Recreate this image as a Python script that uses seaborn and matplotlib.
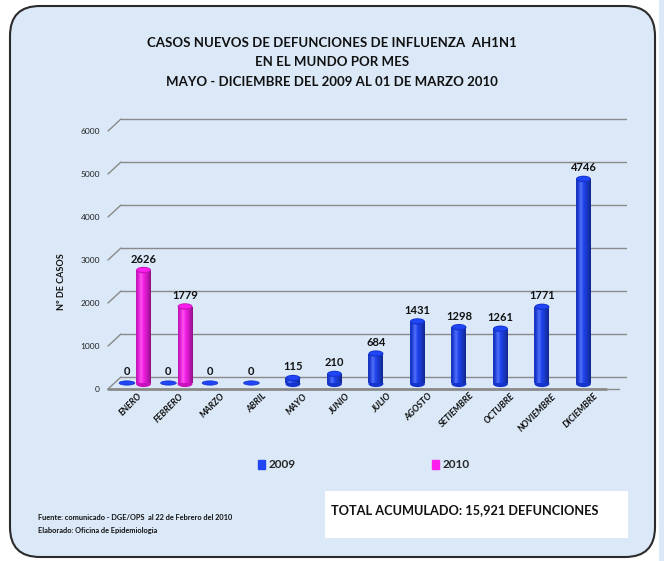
import numpy as np
import pandas as pd
import seaborn as sns
import matplotlib
matplotlib.use("Agg")
import matplotlib.pyplot as plt
from matplotlib.patches import FancyBboxPatch, Ellipse, Rectangle
from matplotlib.transforms import ScaledTranslation

sns.set_theme(style="white")
plt.rcParams['font.family'] = ['Lato', 'DejaVu Sans']

meses = ["ENERO", "FEBRERO", "MARZO", "ABRIL", "MAYO", "JUNIO", "JULIO",
         "AGOSTO", "SETIEMBRE", "OCTUBRE", "NOVIEMBRE", "DICIEMBRE"]
casos_2009 = [0, 0, 0, 0, 115, 210, 684, 1431, 1298, 1261, 1771, 4746]
meses_2010 = ["ENERO", "FEBRERO"]
casos_2010 = [2626, 1779]
yticks = [0, 1000, 2000, 3000, 4000, 5000, 6000]

df = pd.concat([
    pd.DataFrame({"mes": meses, "casos": casos_2009, "anio": "2009"}),
    pd.DataFrame({"mes": meses_2010, "casos": casos_2010, "anio": "2010"}),
])

colores = {"2009": "#1f45f5", "2010": "#fb1eec"}
oscuros = {"2009": "#1534cc", "2010": "#c812bc"}

W, H = 664, 561
fig = plt.figure(figsize=(W / 100, H / 100), dpi=100)
fig.patch.set_facecolor("white")

# fondo redondeado
fondo = FancyBboxPatch((10 / W, 1 - 557 / H), 645 / W, 551 / H,
                       boxstyle="round,pad=0,rounding_size=0.045",
                       transform=fig.transFigure, facecolor="#dae8f7",
                       edgecolor="#2b2b2b", linewidth=1.5, zorder=-2,
                       mutation_aspect=W / H)
fig.patches.append(fondo)
fig.patches.append(Rectangle((659 / W, 0), 5 / W, 1, transform=fig.transFigure,
                             facecolor="#dae8f7", edgecolor="none", zorder=-2))

ax = fig.add_axes([114.5 / W, 1 - 383 / H, 498 / W, 258 / H])
ax.set_facecolor("none")

sns.barplot(data=df, x="mes", y="casos", hue="anio", order=meses,
            hue_order=["2009", "2010"], palette=colores, width=0.8, gap=0.1,
            saturation=1, ax=ax, legend=False, zorder=3)

ax.set_ylim(0, 6000)
ax.set_xlim(-0.5, 11.5)
for s in ax.spines.values():
    s.set_visible(False)

# rejilla con efecto 3D
px = lambda dx, dy: ScaledTranslation(dx / 100, dy / 100, fig.dpi_scale_trans)
tr = ax.get_yaxis_transform()
inv = ax.transData.inverted()
for v in yticks:
    p0 = ax.transData.transform((-0.5, v)) + np.array([-6.5, -6])
    p1 = ax.transData.transform((-0.5, v)) + np.array([6.5, 6])
    a, b = inv.transform(p0), inv.transform(p1)
    ax.plot([a[0], b[0]], [a[1], b[1]], color="#8a8a8a", lw=1, zorder=1, clip_on=False)
    ax.plot([0, 1.015], [v, v], color="#8a8a8a", lw=1, zorder=1, clip_on=False,
            transform=tr + px(6.5, 6))
ax.plot([0, 1.0], [0, 0], color="#8a8a8a", lw=2, zorder=1, clip_on=False,
        transform=tr + px(-6.5, -6))
ax.plot([1.0, 1.026], [0, 0], color="#8a8a8a", lw=1, zorder=1, clip_on=False,
        transform=tr + px(-6.5, -6))

# cilindros: sombreado y tapas
t = np.linspace(0, 1, 64)
sombra = np.zeros((1, 64, 4))
sombra[..., 3] = np.clip(0.9 * np.abs(t - 0.4) ** 1.4, 0, 0.45)
brillo = np.ones((1, 64, 4))
brillo[..., 3] = 0.22 * np.exp(-((t - 0.33) / 0.12) ** 2)
cap_h = 150
for cont, anio in zip(ax.containers, ["2009", "2010"]):
    for bar in cont:
        x0, w, h = bar.get_x(), bar.get_width(), bar.get_height()
        if h > 0:
            bar.set_edgecolor("none")
            for capa in (sombra, brillo):
                img = ax.imshow(capa, extent=(x0, x0 + w, -40, h), aspect="auto",
                                interpolation="bilinear", zorder=4)
                img.set_clip_path(bar)
            ax.add_patch(Ellipse((x0 + w / 2, -20), w, cap_h, facecolor=oscuros[anio],
                                 edgecolor="none", zorder=2.9, clip_on=False))
            ax.add_patch(Ellipse((x0 + w / 2, h), w, cap_h, facecolor=oscuros[anio],
                                 edgecolor="none", zorder=5))
            ax.add_patch(Ellipse((x0 + w / 2, h + 5), w * 0.85, cap_h * 0.65,
                                 facecolor=colores[anio], edgecolor="none", zorder=5))
        else:
            ax.add_patch(Ellipse((x0 + w / 2, 0), w * 1.05, 100, facecolor=colores[anio],
                                 edgecolor=oscuros[anio], lw=0.5, zorder=5, clip_on=False))
    ax.bar_label(cont, fmt="%.0f", padding=4, fontsize=8, fontweight="bold",
                 color="#111111", zorder=6)
ax.set_ylim(0, 6000)
ax.set_xlim(-0.5, 11.5)

ax.set_yticks(yticks)
ax.set_yticklabels([str(v) for v in yticks], fontsize=6, color="#222222")
ax.tick_params(axis="y", length=0, pad=10.4)
for lab in ax.get_yticklabels():
    lab.set_transform(lab.get_transform() + px(0, -6))
ax.set_xticks(range(len(meses)))
ax.set_xticklabels(meses, rotation=45, ha="right", va="center",
                   rotation_mode="anchor", fontsize=6.4, fontweight="bold",
                   fontstyle="italic", color="#111111")
ax.tick_params(axis="x", length=0, pad=10)
for lab in ax.get_xticklabels():
    lab.set_transform(lab.get_transform() + px(5, 2))
ax.set_xlabel("")
ax.set_ylabel("")

fig.text(62 / W, 1 - 282 / H, "Nº DE CASOS", rotation=90, ha="center", va="center",
         fontsize=6.5, fontweight="bold", color="#111111")

titulo = ["CASOS NUEVOS DE DEFUNCIONES DE INFLUENZA  AH1N1",
          "EN EL MUNDO POR MES",
          "MAYO - DICIEMBRE DEL 2009 AL 01 DE MARZO 2010"]
for linea, yy in zip(titulo, [43, 62, 82]):
    fig.text(332 / W, 1 - yy / H, linea, ha="center", va="center", fontsize=9.5,
             fontweight="bold", color="#111111")

handles = [Rectangle((0, 0), 1, 1, color=colores["2009"]),
           Rectangle((0, 0), 1, 1, color=colores["2010"])]
fig.legend(handles, ["2009", "2010"], loc="center", bbox_to_anchor=(364 / W, 1 - 465 / H),
           ncol=2, frameon=False, handlelength=0.6, handleheight=0.9, handletextpad=0.3,
           columnspacing=11.5, prop={"weight": "bold", "size": 8.5})

fig.patches.append(Rectangle((325 / W, 1 - 538 / H), 303 / W, 47 / H,
                             transform=fig.transFigure, facecolor="white",
                             edgecolor="none", zorder=-1))
fig.text(331 / W, 1 - 510 / H, "TOTAL ACUMULADO: 15,921 DEFUNCIONES", ha="left",
         va="center", fontsize=9.2, fontweight="bold", color="#111111", zorder=2)

fig.text(38 / W, 1 - 517 / H, "Fuente: comunicado - DGE/OPS  al 22 de Febrero del 2010",
         ha="left", va="center", fontsize=5.3, fontweight="bold", color="#111111")
fig.text(38 / W, 1 - 530 / H, "Elaborado: Oficina de Epidemiologia",
         ha="left", va="center", fontsize=5.3, fontweight="bold", color="#111111")

fig.savefig("out.png", dpi=100)
